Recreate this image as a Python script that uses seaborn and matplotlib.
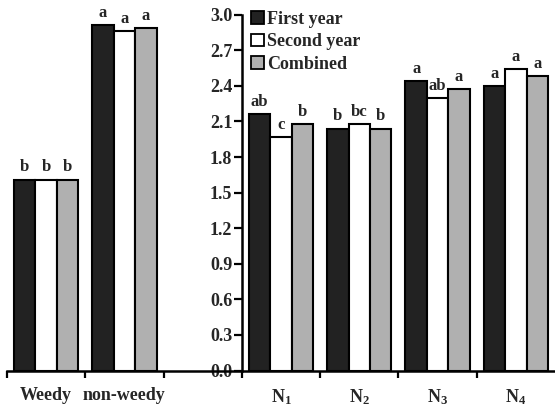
import pandas as pd
import matplotlib.pyplot as plt
import seaborn as sns

# data
categories = ["Weedy", "non-weedy", "N1", "N2", "N3", "N4"]
tick_labels = ["Weedy", "non-weedy", "", "N$_1$", "N$_2$", "N$_3$", "N$_4$"]
series = ["First year", "Second year", "Combined"]
first_year = [1.61, 2.91, 2.16, 2.04, 2.44, 2.40]
second_year = [1.61, 2.86, 1.97, 2.08, 2.30, 2.54]
combined = [1.61, 2.89, 2.08, 2.04, 2.37, 2.48]
letters_first = ["b", "a", "ab", "b", "a", "a"]
letters_second = ["b", "a", "c", "bc", "ab", "a"]
letters_combined = ["b", "a", "b", "b", "a", "a"]

order = ["Weedy", "non-weedy", "gap", "N1", "N2", "N3", "N4"]

rows = []
for s, vals, lets in zip(series, [first_year, second_year, combined],
                         [letters_first, letters_second, letters_combined]):
    for c, v, l in zip(categories, vals, lets):
        rows.append({"cat": c, "series": s, "LAI": v, "letter": l})
df = pd.DataFrame(rows)

sns.set_theme(style="ticks")
plt.rcParams['font.family'] = ['Liberation Serif', 'DejaVu Serif']
plt.rcParams['font.weight'] = 'bold'
plt.rcParams['mathtext.fontset'] = 'custom'
plt.rcParams['mathtext.rm'] = 'Liberation Serif:bold'
plt.rcParams['mathtext.it'] = 'Liberation Serif:bold'

fig = plt.figure(figsize=(5.55, 4.09), dpi=100)
ax = fig.add_axes([7 / 555, (409 - 370.5) / 409, 548 / 555, 355.8 / 409])

sns.barplot(data=df, x="cat", y="LAI", hue="series", order=order,
            hue_order=series, palette=["#222222", "#ffffff", "#b0b0b0"],
            saturation=1, width=0.82, edgecolor="black", linewidth=1.5,
            errorbar=None, ax=ax)

# significance letters above bars
lookup = {(r.cat, r.series): r.letter for r in df.itertuples()}
for s, cont in zip(series, ax.containers):
    for bar in cont:
        xc = bar.get_x() + bar.get_width() / 2
        cat = order[int(round(xc))]
        if cat == "gap" or bar.get_height() == 0:
            continue
        ax.text(xc, bar.get_height() + 0.035, lookup[(cat, s)], ha="center",
                va="bottom", fontsize=12, fontweight="bold", clip_on=False)

ax.set_xlim(-0.5, 6.5)
ax.set_ylim(0, 3.0)
ax.set_yticks([i * 0.3 for i in range(11)])
ax.set_yticklabels([f"{i * 0.3:.1f}" for i in range(11)])
ax.set_xticks(range(7))
ax.set_xticklabels(tick_labels, fontsize=13)
ax.set_xticks([-0.5, 0.5, 1.5, 2.5, 3.5, 4.5, 5.5], minor=True)
ax.tick_params(axis="x", which="major", length=0, pad=12)
ax.tick_params(axis="x", which="minor", bottom=True, direction="out",
               length=5, width=1.6, color="black")
ax.tick_params(axis="y", left=True, direction="out", length=6, width=1.6,
               color="black", pad=1, labelsize=13)

ax.set_xlabel("")
ax.set_ylabel("LAI", fontsize=14, fontweight="bold")

sns.despine(ax=ax, top=True, right=True)
ax.spines["left"].set_position(("data", 2.5))
for sp in ["left", "bottom"]:
    ax.spines[sp].set_linewidth(1.8)
    ax.spines[sp].set_color("black")
ax.yaxis.set_label_coords(2.5 / 7 - 0.095, 0.5)

leg = ax.legend(loc="upper left", bbox_to_anchor=(251 / 555, 1 - 11 / 409),
                bbox_transform=fig.transFigure, frameon=False, fontsize=13,
                handlelength=0.7, handleheight=0.7, handletextpad=0.2,
                labelspacing=0.3, borderaxespad=0, borderpad=0)
for h in leg.legend_handles:
    h.set_edgecolor("black")
    h.set_linewidth(1.3)

plt.savefig("out.png", dpi=100)
